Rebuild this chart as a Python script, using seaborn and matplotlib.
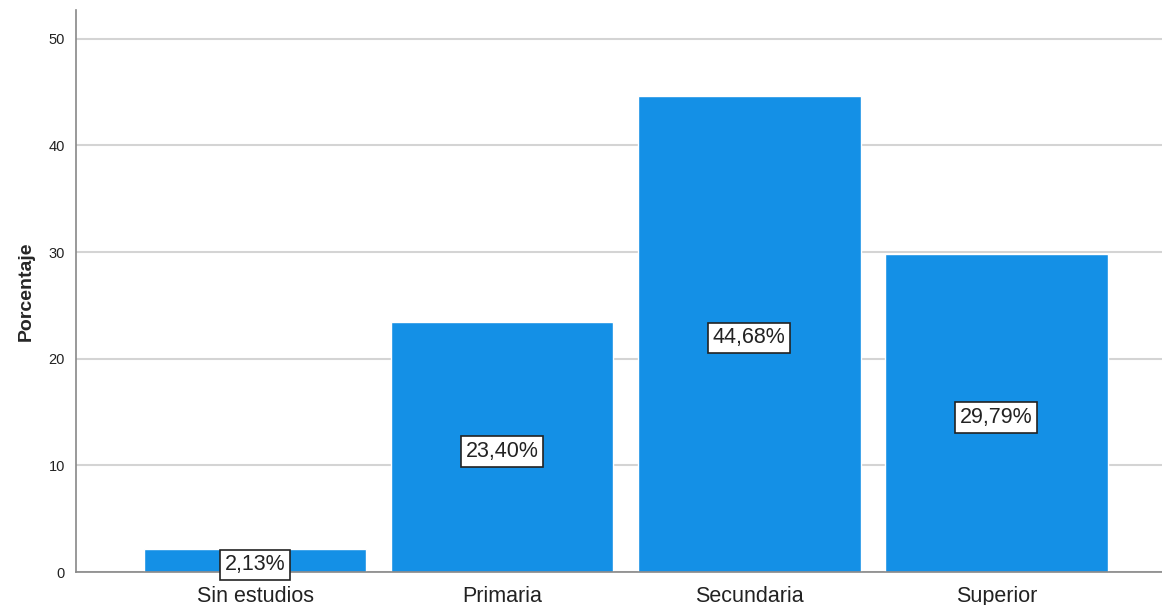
import matplotlib
matplotlib.use("Agg")
import matplotlib.pyplot as plt
import seaborn as sns
import pandas as pd

# Datos
niveles = ["Sin estudios", "Primaria", "Secundaria", "Superior"]
porcentajes = [2.13, 23.40, 44.68, 29.79]
etiquetas = ["2,13%", "23,40%", "44,68%", "29,79%"]

sns.set_style("white")
plt.rcParams["font.family"] = ["Liberation Sans", "DejaVu Sans"]

df = pd.DataFrame({"nivel": niveles, "porcentaje": porcentajes})

fig = plt.figure(figsize=(11.62, 6.05), dpi=100)
ax = fig.add_axes([0.0654, 0.0545, 0.9346, 0.929])

ax.yaxis.grid(True, color="#d4d4d4", linewidth=1.5, zorder=0)
ax.set_axisbelow(True)

sns.barplot(data=df, x="nivel", y="porcentaje", color="#1490e6",
            saturation=1, width=0.9, ax=ax, zorder=2)

# etiquetas en el centro de cada barra
for i, (v, txt) in enumerate(zip(porcentajes, etiquetas)):
    ax.annotate(txt, (i, v / 2), xytext=(0, -3), textcoords="offset points",
                ha="center", va="center", fontsize=15.5, color="#222222", zorder=3,
                bbox=dict(boxstyle="square,pad=0.22", fc="white", ec="#222222", lw=1.2))

ax.set_xlim(-0.725, 3.67)
ax.set_ylim(0, 52.7)
ax.set_yticks([0, 10, 20, 30, 40, 50])
ax.set_xlabel("")
ax.set_ylabel("Porcentaje", fontsize=14, fontweight="bold", labelpad=10)
ax.tick_params(axis="x", labelsize=15.5, length=0, pad=10, labelcolor="#222222")
ax.tick_params(axis="y", labelsize=10.5, length=0, pad=8, labelcolor="#222222")

for s in ["top", "right"]:
    ax.spines[s].set_visible(False)
for s in ["left", "bottom"]:
    ax.spines[s].set_color("#888888")
    ax.spines[s].set_linewidth(1.2)

fig.savefig("out.png", dpi=100)
